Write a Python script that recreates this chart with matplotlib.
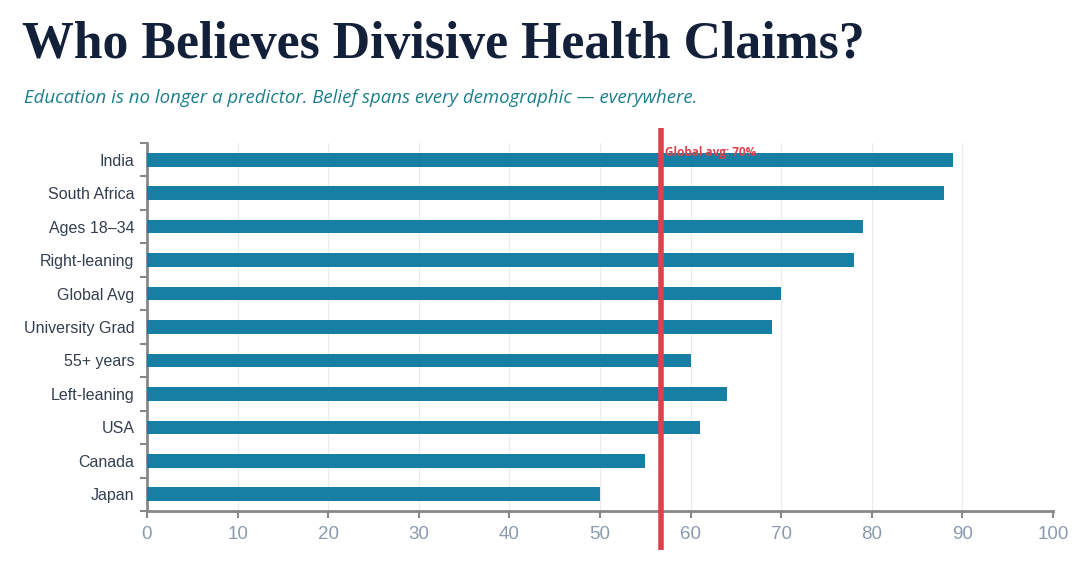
import numpy as np
import matplotlib as mpl
import matplotlib.pyplot as plt

# data, top to bottom as drawn
groups = ['India', 'South Africa', 'Ages 18–34', 'Right-leaning', 'Global Avg',
          'University Grad', '55+ years', 'Left-leaning', 'USA', 'Canada', 'Japan']
belief_pct = [89, 88, 79, 78, 70, 69, 60, 64, 61, 55, 50]
avg_line_x = 56.7   # where the marker line sits on the axis
avg_label = 'Global avg: 70%'
xticks = [0, 10, 20, 30, 40, 50, 60, 70, 80, 90, 100]

bar_col = '#167fa3'
red = '#e0404c'

fig = plt.figure(figsize=(10.8, 5.76), dpi=100)
ax = fig.add_axes([147/1080, 1 - 511/576, 906/1080, 368/576])

y = np.arange(len(groups))[::-1]
ax.barh(y, belief_pct, height=0.41, color=bar_col, zorder=3)

ax.set_xlim(0, 100)
ax.set_ylim(-0.5, len(groups) - 0.5)
ax.set_xticks(xticks)
ax.set_xticklabels([str(t) for t in xticks], fontsize=13.5, color='#8c9aae',
                   family='Liberation Sans')
ax.set_yticks(y)
ax.set_yticklabels(groups, fontsize=11.5, color='#333f50', family='Liberation Sans')
ax.tick_params(axis='y', length=0, pad=9)
ax.set_yticks(np.arange(-0.5, len(groups), 1), minor=True)
ax.tick_params(axis='y', which='minor', length=5, width=1.5, color='#888888')
ax.tick_params(axis='x', length=5, width=1.5, color='#888888', pad=6)

ax.grid(axis='x', color='#ebebeb', lw=0.8, zorder=0)
for s in ['top', 'right']:
    ax.spines[s].set_visible(False)
for s in ['left', 'bottom']:
    ax.spines[s].set_color('#888888')
    ax.spines[s].set_linewidth(2)

# average marker line, overshoots the plot area
ax.plot([avg_line_x, avg_line_x], [-1.67, 10.95], color=red, lw=4,
        clip_on=False, zorder=5, solid_capstyle='butt')
ax.text(avg_line_x + 0.5, 10.12, avg_label, color=red, fontsize=8.5,
        fontweight='bold', family='Open Sans', ha='left', va='baseline', zorder=6)

fig.text(22/1080, 1 - 58/576, 'Who Believes Divisive Health Claims?',
         fontsize=37.3, fontweight='bold', family='Liberation Serif', color='#13203a',
         ha='left', va='baseline')
fig.text(24/1080, 1 - 103/576,
         'Education is no longer a predictor. Belief spans every demographic — everywhere.',
         fontsize=13.4, style='italic', family='Open Sans', color='#1b7f8c',
         ha='left', va='baseline')

fig.savefig('out.png', dpi=100)
